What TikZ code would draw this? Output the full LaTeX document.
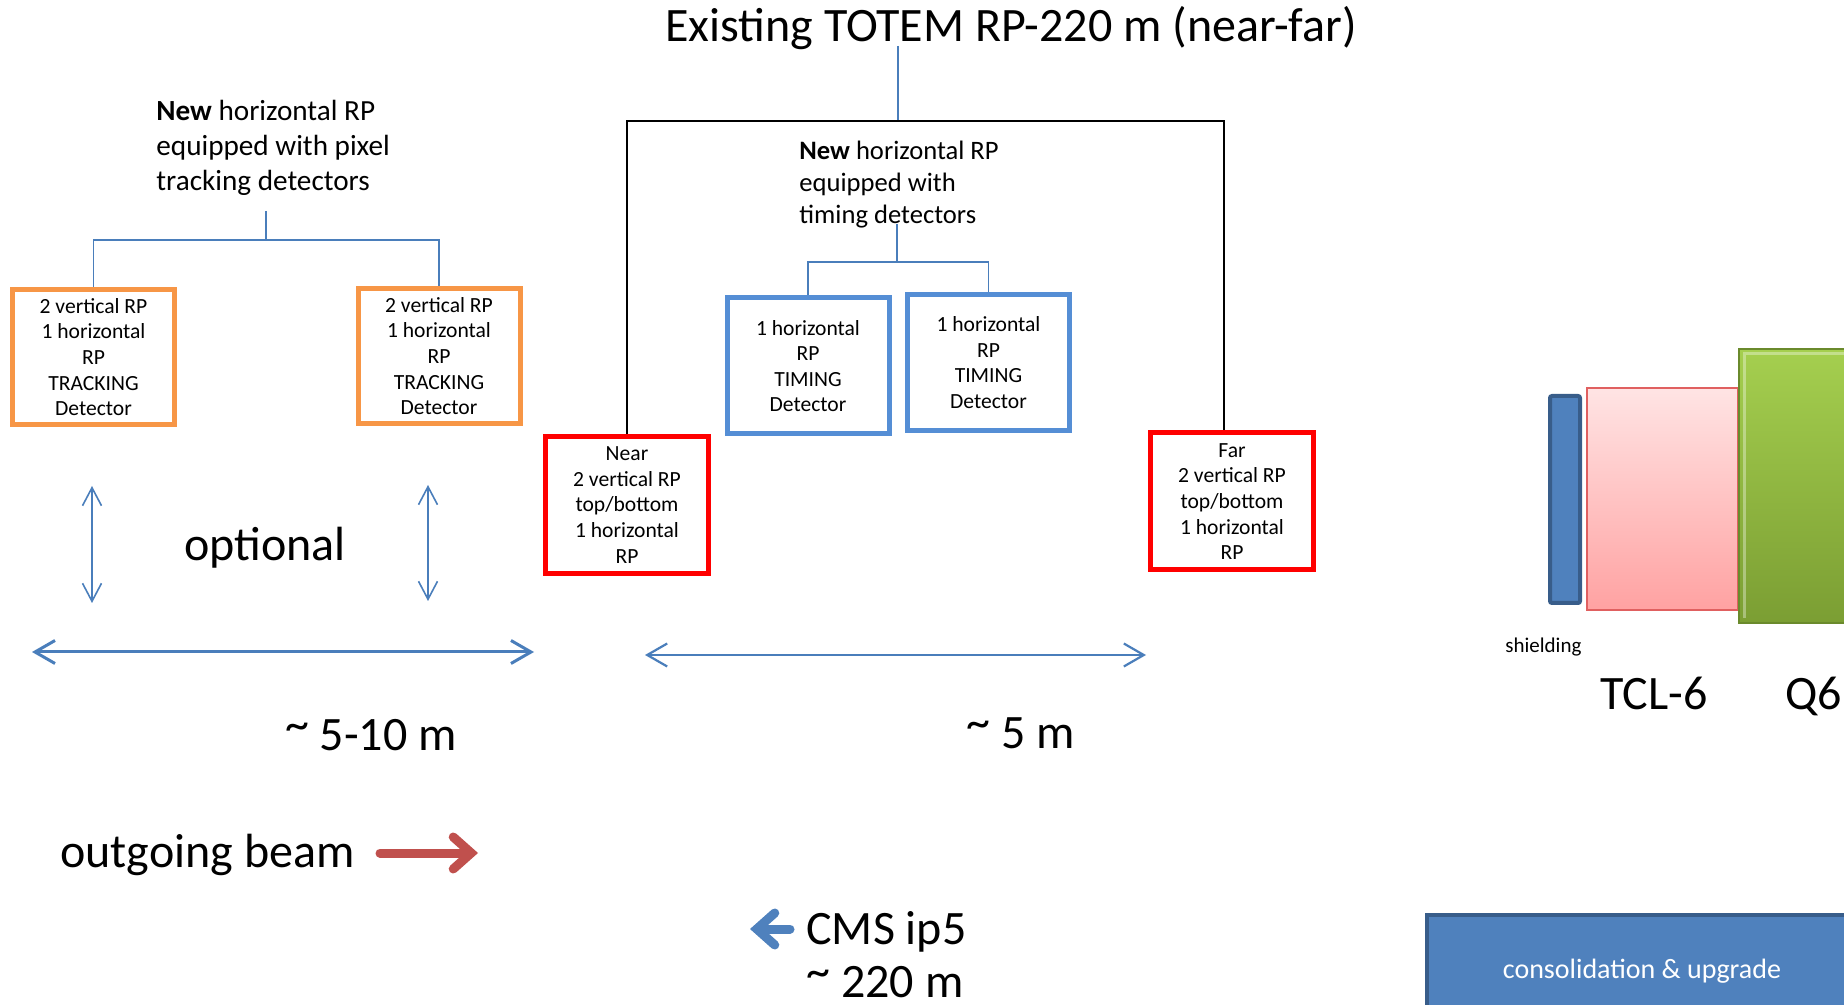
\documentclass[tikz,border=0pt]{standalone}
\usepackage{fontspec}
\setmainfont{Carlito}
\usetikzlibrary{arrows.meta,positioning}

\definecolor{trkorange}{HTML}{F79646}
\definecolor{linkblue}{HTML}{4A7EBB}
\definecolor{timblue}{HTML}{558ED5}
\definecolor{rpred}{HTML}{FF0000}
\definecolor{beamred}{HTML}{C0504D}
\definecolor{shldblue}{HTML}{4F81BD}
\definecolor{shldedge}{HTML}{385D8A}
\definecolor{tcltop}{HTML}{FFE4E4}
\definecolor{tclbot}{HTML}{FFA2A2}
\definecolor{tcledge}{HTML}{E06060}
\definecolor{qsixtop}{HTML}{A5CF4F}
\definecolor{qsixbot}{HTML}{7B9E33}
\definecolor{qsixedge}{HTML}{6A8A2C}

\newcommand{\apxtilde}{\raisebox{0.2em}{\textasciitilde}}

\begin{document}
\begin{tikzpicture}[x=0.5pt,y=-0.5pt,
    boxtxt/.style={font=\fontsize{10.8}{12.8}\selectfont, align=center, inner sep=0pt},
    trkbox/.style={boxtxt, draw=trkorange, line width=2.5pt, minimum width=81pt, minimum height=67.5pt},
    timbox/.style={boxtxt, draw=timblue, line width=2.5pt, minimum width=81pt, minimum height=68pt},
    rpbox/.style={boxtxt, draw=rpred, line width=2.5pt, minimum width=81.5pt, minimum height=68.5pt},
    bigtxt/.style={font=\fontsize{24}{28}\selectfont, inner sep=0pt},
    link/.style={draw=linkblue, line width=0.75pt},
    exlink/.style={draw=black, line width=1pt},
    span/.style={draw=linkblue, {Straight Barb[length=10pt,width=11.5pt]}-{Straight Barb[length=10pt,width=11.5pt]}},
    updown/.style={draw=linkblue, line width=0.8pt, {Straight Barb[length=9pt,width=9.5pt]}-{Straight Barb[length=9pt,width=9.5pt]}},
    fatarrow/.style={line width=4.5pt, line cap=round, -{Straight Barb[length=9pt,width=16pt,line cap=round]}}]
\useasboundingbox (0,0) rectangle (1844,1005);

% title and the existing near/far pots
\node[bigtxt, anchor=base] (title) at (1011,42) {Existing TOTEM RP-220 m (near-far)};
\node[rpbox] (near) at (627,505) {Near\\2 vertical RP\\top/bottom\\1 horizontal\\RP};
\node[rpbox] (far) at (1232,501.5) {Far\\2 vertical RP\\top/bottom\\1 horizontal\\RP};
\coordinate (extop) at (898,46);
\coordinate (exbar) at (898,121);
\draw[link] (extop) -- (exbar);
\draw[exlink] (near.north) |- (exbar) -| ([xshift=-4pt]far.north);

% tracking stations
\node[font=\fontsize{14.6}{17.5}\selectfont, align=left, inner sep=0pt, anchor=north west] (trklbl) at (156,100)
  {\textbf{New} horizontal RP\\equipped with pixel\\tracking detectors};
\node[trkbox] (trk1) at (93.5,357) {2 vertical RP\\1 horizontal\\RP\\TRACKING\\Detector};
\node[trkbox] (trk2) at (439,356) {2 vertical RP\\1 horizontal\\RP\\TRACKING\\Detector};
\coordinate (trktop) at (266,211);
\coordinate (trkbar) at (266,240);
\draw[link] (trktop) -- (trkbar);
\draw[link] (trk1.north) |- (trkbar) -| (trk2.north);

% timing stations
\node[font=\fontsize{13.3}{16}\selectfont, align=left, inner sep=0pt, anchor=north west] (timlbl) at (799,141)
  {\textbf{New} horizontal RP\\equipped with\\timing detectors};
\node[timbox] (tim1) at (808,366) {1 horizontal\\RP\\TIMING\\Detector};
\node[timbox] (tim2) at (988.5,362.5) {1 horizontal\\RP\\TIMING\\Detector};
\coordinate (timtop) at (897,224);
\coordinate (timbar) at (897,262);
\draw[link] (timtop) -- (timbar);
\draw[link] (tim1.north) |- (timbar) -| (tim2.north);

% optional span
\coordinate (up1) at (92,486);
\coordinate (dn1) at (92,603);
\coordinate (up2) at (428,485);
\coordinate (dn2) at (428,601);
\draw[updown] (up1) -- (dn1);
\draw[updown] (up2) -- (dn2);
\node[bigtxt, anchor=base] (opt) at (265,561) {optional};

% distances
\coordinate (spanA) at (32,652);
\coordinate (spanB) at (534,652);
\coordinate (spanC) at (645,655);
\coordinate (spanD) at (1146,655);
\draw[span, line width=1.5pt] (spanA) -- (spanB);
\draw[span, line width=1.1pt] (spanC) -- (spanD);
\node[bigtxt, anchor=base] (dist1) at (371,750) {\apxtilde{} 5-10 m};
\node[bigtxt, anchor=base] (dist2) at (1021,748) {\apxtilde{} 5 m};

% beam direction
\node[bigtxt, anchor=base west] (beam) at (60,867) {outgoing beam};
\coordinate (beamtail) at (380,853);
\coordinate (beamtip) at (478,853);
\draw[fatarrow, beamred] (beamtail) -- (beamtip);
\node[bigtxt, anchor=base west] (cms) at (806,944) {CMS ip5};
\node[bigtxt, anchor=base west] (ipdist) at (806,997) {\apxtilde{} 220 m};
\coordinate (cmstail) at (790,929);
\coordinate (cmstip) at (750,929);
\draw[fatarrow, shldblue] (cmstail) -- (cmstip);

% shielding, TCL-6 and Q6
\draw[fill=shldblue, draw=shldedge, line width=2pt, rounded corners=1pt] (1550,396) rectangle (1580,603);
\shade[top color=tcltop, bottom color=tclbot] (1587,388) rectangle (1738,610);
\draw[tcledge, line width=0.8pt] (1587,388) rectangle (1738,610);
\shade[top color=qsixtop, bottom color=qsixbot] (1739,349) rectangle (1850,623);
\draw[qsixedge, line width=1pt] (1739,349) rectangle (1850,623);
\draw[white, opacity=0.35, line width=1.5pt] (1744,618) -- (1744,354) -- (1850,354);
\node[font=\fontsize{10.5}{12}\selectfont, inner sep=0pt, anchor=base west] (shld) at (1505,653) {shielding};
\node[bigtxt, anchor=base west] (tcl) at (1600,710) {TCL-6};
\node[bigtxt, anchor=base west] (qsix) at (1785,710) {Q6};

\node[fill=shldblue, draw=shldedge, line width=2pt, minimum width=215pt, minimum height=56pt,
  text=white, font=\fontsize{14}{16}\selectfont] (cons) at (1642,971) {consolidation \& upgrade};
\end{tikzpicture}
\end{document}
